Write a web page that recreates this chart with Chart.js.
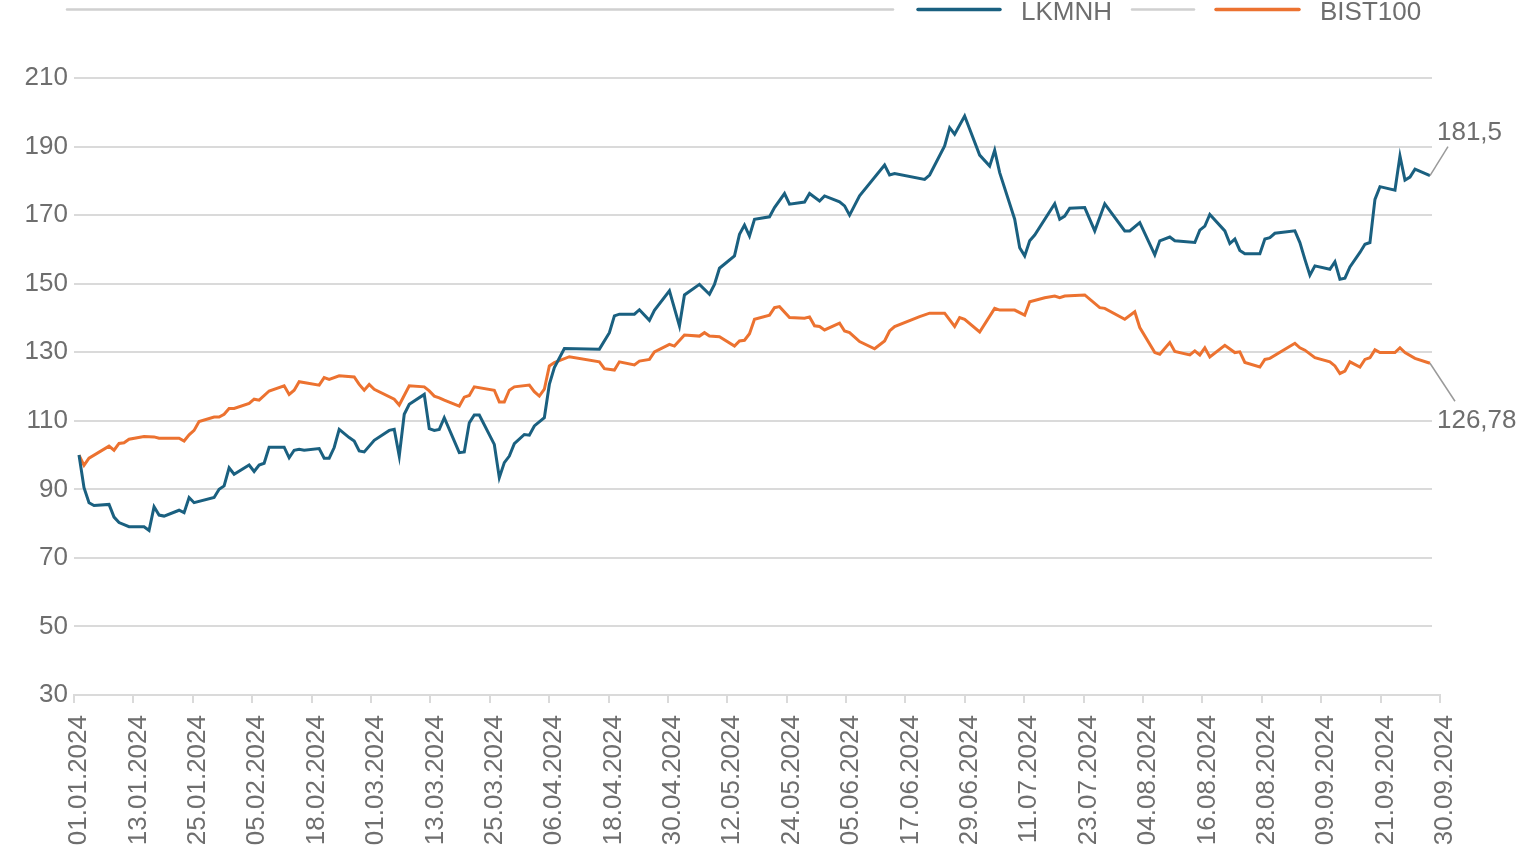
<!DOCTYPE html>
<html>
<head>
<meta charset="utf-8">
<script src="https://cdn.jsdelivr.net/npm/chart.js@4.4.1/dist/chart.umd.min.js"></script>
<style>
html, body { margin: 0; padding: 0; background: #fff; }
#wrap { width: 1519px; height: 854px; position: relative; }
</style>
</head>
<body>
<div id="wrap"><canvas id="myChart"></canvas></div>
<script>
// x positions are days counted from 01.01.2024
var tickLabels = ['01.01.2024', '13.01.2024', '25.01.2024', '05.02.2024', '18.02.2024', '01.03.2024',
    '13.03.2024', '25.03.2024', '06.04.2024', '18.04.2024', '30.04.2024', '12.05.2024', '24.05.2024',
    '05.06.2024', '17.06.2024', '29.06.2024', '11.07.2024', '23.07.2024', '04.08.2024', '16.08.2024',
    '28.08.2024', '09.09.2024', '21.09.2024', '30.09.2024'];
var yTicks = [30, 50, 70, 90, 110, 130, 150, 170, 190, 210];
var xMax = 273;

var lkDays = [
    1, 2, 3, 4, 7, 8, 9, 11, 14, 15, 16, 17, 18, 21, 22, 23, 24, 28, 29, 30,
    31, 32, 35, 36, 37, 38, 39, 42, 43, 44, 45, 46, 49, 50, 51, 52, 53, 55, 56, 57, 58,
    60, 63, 64, 65, 66, 67, 70, 71, 72, 73, 74, 77, 78, 79, 80, 81, 84, 85, 86, 87, 88, 90,
    91, 92, 94, 95, 96, 98, 105, 107, 108, 109, 112, 113, 115, 116, 119,
    121, 122, 125, 127, 128, 129, 132, 133, 134, 135, 136, 139, 140, 142, 143, 146, 147, 149, 150,
    153, 154, 155, 157, 162, 163, 164, 170, 171, 174, 175, 176, 178, 181,
    183, 184, 185, 188, 189, 190, 191, 192, 196, 197, 198, 199, 202, 204, 206, 210, 211,
    213, 216, 217, 219, 220, 224, 225, 226, 227, 230, 231, 232, 233, 234, 237, 238, 239, 240,
    244, 245, 246, 247, 248, 251, 252, 253, 254, 255, 257, 258, 259, 260, 261, 264, 265, 266, 267, 268, 271];
var lkValues = [
    100, 90.5, 86.1, 85.3, 85.6, 81.9, 80.3, 79.1, 79.1, 78.0, 84.9, 82.5, 82.2, 83.9, 83.2, 87.6, 86.1, 87.6, 90.0, 91.0,
    96.3, 94.4, 97.1, 95.2, 97.1, 97.6, 102.3, 102.3, 99.2, 101.4, 101.7, 101.4, 101.9, 99.1, 99.1, 102.2, 107.5, 105.1, 104.1, 101.2, 100.9,
    104.3, 107.2, 107.5, 99.7, 111.9, 114.8, 117.7, 107.7, 107.2, 107.5, 110.9, 100.7, 100.9, 109.4, 111.7, 111.7, 103.1, 93.4, 97.8, 99.7, 103.3, 106.0,
    105.8, 108.5, 110.9, 120.6, 125.5, 131.1, 130.9, 135.7, 140.6, 141.1, 141.1, 142.4, 139.3, 142.2, 147.9,
    137.7, 146.7, 149.8, 146.9, 149.8, 154.5, 158.1, 164.4, 167.1, 163.9, 168.8, 169.5, 172.2, 176.3, 173.2, 173.8, 176.3, 174.1, 175.6,
    173.9, 172.7, 170.0, 175.6, 184.6, 181.7, 182.1, 180.4, 181.7, 190.2, 195.5, 193.6, 198.9, 187.5,
    184.3, 188.9, 182.4, 168.8, 160.5, 158.1, 162.5, 164.2, 173.3, 168.8, 169.7, 172.0, 172.2, 165.4, 173.3, 165.4, 165.4,
    167.8, 158.4, 162.5, 163.6, 162.5, 162.0, 165.6, 166.8, 170.2, 165.4, 161.7, 163.0, 159.7, 158.7, 158.7, 163.0, 163.4, 164.7,
    165.4, 162.0, 157.1, 152.5, 155.2, 154.2, 156.4, 151.3, 151.6, 154.9, 159.1, 161.5, 162.0, 174.6, 178.3, 177.3, 187.2, 180.2, 181.1, 183.4, 181.5];

var bistDays = [
    1, 2, 3, 7, 8, 9, 10, 11, 14, 16, 17, 21, 22, 23, 24, 25, 28, 29, 30,
    31, 32, 35, 36, 37, 39, 42, 43, 44, 45, 49, 50, 51, 53, 56, 57, 58, 59,
    60, 64, 65, 67, 70, 71, 72, 73, 74, 77, 78, 79, 80, 84, 85, 86, 87, 88,
    91, 92, 93, 94, 95, 96, 99, 105, 106, 108, 109, 112, 113, 115, 116, 119, 120,
    122, 125, 126, 127, 129, 132, 133, 134, 135, 136, 139, 140, 141, 143, 146, 147, 148, 149, 150,
    153, 154, 155, 157, 160, 162, 163, 164, 169, 171, 174, 176, 177, 178, 181,
    184, 185, 188, 190, 191, 194, 196, 197, 198, 202, 205, 206, 210, 212,
    213, 216, 217, 219, 220, 223, 224, 225, 226, 227, 230, 232, 233, 234, 237, 238, 239,
    244, 245, 246, 248, 251, 252, 253, 254, 255, 257, 258, 259, 260, 261, 264, 265, 266, 268, 271];
var bistValues = [
    100, 97.0, 99.1, 102.6, 101.4, 103.4, 103.6, 104.6, 105.4, 105.3, 104.9, 104.9, 104.1, 105.9, 107.2, 109.8, 111.1, 111.1, 111.9,
    113.6, 113.6, 115.1, 116.3, 116.0, 118.7, 120.2, 117.7, 118.9, 121.4, 120.4, 122.6, 122.1, 123.1, 122.8, 120.6, 118.9, 120.6,
    119.2, 116.3, 114.6, 120.2, 119.9, 118.7, 117.2, 116.7, 116.0, 114.3, 116.9, 117.4, 119.9, 118.9, 115.5, 115.5, 118.9, 119.9,
    120.4, 118.5, 117.2, 119.2, 126.0, 127.0, 128.7, 127.2, 125.2, 124.8, 127.2, 126.3, 127.4, 127.9, 130.1, 132.3, 131.8,
    135.0, 134.7, 135.7, 134.7, 134.5, 131.8, 133.3, 133.5, 135.4, 139.6, 140.8, 143.0, 143.3, 140.1, 139.9, 140.3, 137.7, 137.5, 136.5,
    138.5, 136.2, 135.7, 133.1, 131.0, 133.3, 136.2, 137.5, 140.4, 141.4, 141.4, 137.5, 140.1, 139.6, 135.9,
    142.8, 142.3, 142.3, 140.8, 144.7, 145.9, 146.4, 145.9, 146.4, 146.7, 143.0, 142.8, 139.6, 141.8,
    137.2, 129.9, 129.4, 132.8, 130.2, 129.2, 130.4, 129.2, 131.3, 128.6, 132.0, 129.9, 130.1, 127.0, 125.7, 127.9, 128.2,
    132.6, 131.3, 130.6, 128.4, 127.2, 126.0, 123.8, 124.5, 127.2, 125.7, 127.9, 128.4, 130.7, 129.9, 129.9, 131.3, 129.9, 128.2, 126.78];

var blue = '#1a6080';
var orange = '#ec7230';
var gridColor = '#dadada';
var textColor = '#6e6e6e';
var fontFamily = "'Liberation Sans', Arial, Helvetica, sans-serif";
var fontSize = 26;

function toPoints(days, values) {
    return days.map(function (d, i) { return { x: d, y: values[i] }; });
}

// horizontal grid lines stop a little before the right edge
var gridPlugin = {
    id: 'shortGrid',
    beforeDatasetsDraw: function (c) {
        var g = c.ctx, a = c.chartArea, ys = c.scales.y;
        g.save();
        g.strokeStyle = gridColor;
        g.lineWidth = 2;
        yTicks.forEach(function (v) {
            if (v === ys.min) return;
            var py = Math.round(ys.getPixelForValue(v));
            g.beginPath();
            g.moveTo(a.left, py);
            g.lineTo(a.right - 8, py);
            g.stroke();
        });
        g.restore();
    }
};

var legendPlugin = {
    id: 'topLegend',
    afterDraw: function (c) {
        var g = c.ctx, y = 9.5;
        function seg(x1, x2, col, w) {
            g.strokeStyle = col;
            g.lineWidth = w;
            g.beginPath();
            g.moveTo(x1, y);
            g.lineTo(x2, y);
            g.stroke();
        }
        g.save();
        g.lineCap = 'round';
        seg(67, 893, '#d0d0d0', 2.5);
        seg(918, 1000, blue, 3.5);
        seg(1132, 1194, '#d0d0d0', 2.5);
        seg(1216, 1299, orange, 3.5);
        g.fillStyle = textColor;
        g.font = fontSize + 'px ' + fontFamily;
        g.textBaseline = 'alphabetic';
        g.fillText(c.data.datasets[0].label, 1021, 20);
        g.fillText(c.data.datasets[1].label, 1320, 20);
        g.restore();
    }
};

// last value with a small connector line
var endOffsets = [
    { lx: 18, ly: -29, tx: 7, ty: -36 },
    { lx: 25, ly: 38, tx: 7, ty: 65 }
];
var endLabelPlugin = {
    id: 'endLabels',
    afterDatasetsDraw: function (c) {
        var g = c.ctx;
        g.save();
        g.font = fontSize + 'px ' + fontFamily;
        g.fillStyle = textColor;
        c.data.datasets.forEach(function (ds, i) {
            var meta = c.getDatasetMeta(i);
            var pt = meta.data[meta.data.length - 1];
            var val = ds.data[ds.data.length - 1].y;
            var o = endOffsets[i];
            g.strokeStyle = '#9a9a9a';
            g.lineWidth = 1.5;
            g.beginPath();
            g.moveTo(pt.x, pt.y);
            g.lineTo(pt.x + o.lx, pt.y + o.ly);
            g.stroke();
            g.fillText(String(val).replace('.', ','), pt.x + o.tx, pt.y + o.ty);
        });
        g.restore();
    }
};

var ctx = document.getElementById('myChart').getContext('2d');
var chart = new Chart(ctx, {
    type: 'line',
    data: {
        datasets: [
            {
                label: 'LKMNH',
                data: toPoints(lkDays, lkValues),
                borderColor: blue,
                backgroundColor: 'transparent',
                borderWidth: 3,
                pointRadius: 0,
                tension: 0,
                fill: false
            },
            {
                label: 'BIST100',
                data: toPoints(bistDays, bistValues),
                borderColor: orange,
                backgroundColor: 'transparent',
                borderWidth: 3,
                pointRadius: 0,
                tension: 0,
                fill: false
            }
        ]
    },
    options: {
        responsive: true,
        maintainAspectRatio: false,
        animation: false,
        layout: { padding: { top: 78, right: 79, bottom: 0, left: 0 } },
        plugins: {
            legend: { display: false },
            tooltip: { enabled: false }
        },
        scales: {
            x: {
                type: 'linear',
                min: 0,
                max: xMax,
                afterBuildTicks: function (s) {
                    s.ticks = tickLabels.map(function (l, i) {
                        return { value: i * xMax / (tickLabels.length - 1) };
                    });
                },
                afterFit: function (s) { s.height = 159; },
                grid: { drawOnChartArea: false, drawTicks: true, tickLength: 8, color: gridColor, lineWidth: 2 },
                border: { display: true, color: gridColor, width: 2 },
                ticks: {
                    autoSkip: false,
                    minRotation: 90,
                    maxRotation: 90,
                    padding: 12,
                    labelOffset: 5,
                    color: textColor,
                    font: { family: fontFamily, size: fontSize },
                    callback: function (v, i) { return tickLabels[i]; }
                }
            },
            y: {
                min: 30,
                max: 210,
                afterBuildTicks: function (s) {
                    s.ticks = yTicks.map(function (v) { return { value: v }; });
                },
                afterFit: function (s) { s.width = 74; },
                grid: { display: false, drawTicks: false },
                border: { display: false },
                ticks: {
                    padding: 6,
                    color: textColor,
                    font: { family: fontFamily, size: fontSize }
                }
            }
        }
    },
    plugins: [gridPlugin, legendPlugin, endLabelPlugin]
});
</script>
</body>
</html>
